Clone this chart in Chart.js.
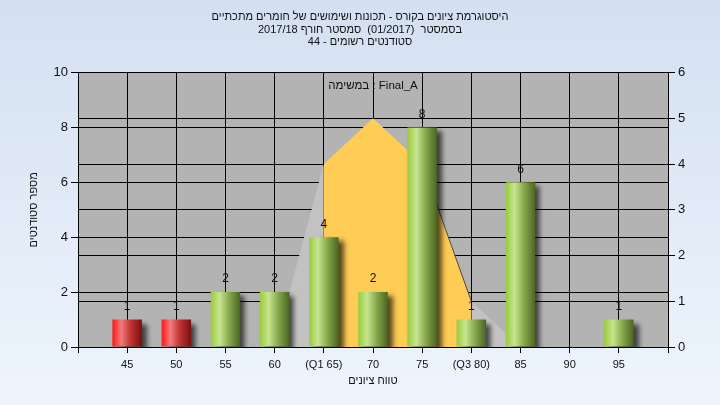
<!DOCTYPE html>
<html>
<head>
<meta charset="utf-8">
<script src="https://cdn.jsdelivr.net/npm/chart.js@4/dist/chart.umd.min.js"></script>
<style>
  html, body { margin: 0; padding: 0; }
  body { width: 720px; height: 405px; overflow: hidden; background: linear-gradient(#d4e0f1, #eef5fd); }
  canvas { display: block; }
</style>
</head>
<body>
<canvas id="histChart" width="720" height="405"></canvas>
<script>
(() => {
  'use strict';

  // chart data
  const titleLines = [
    'היסטוגרמת ציונים בקורס - תכונות ושימושים של חומרים מתכתיים',
    'בסמסטר  (01/2017)  סמסטר חורף 2017/18',
    'סטודנטים רשומים - 44'
  ];
  const taskCaption = 'במשימה : Final_A';
  const xTitle = 'טווח ציונים';
  const yTitle = 'מספר סטודנטים';

  const grades = [45, 50, 55, 60, 65, 70, 75, 80, 85, 90, 95];
  const tickLabels = ['45', '50', '55', '60', '(Q1 65)', '70', '75', '(Q3 80)', '85', '90', '95'];
  const counts = [1, 1, 2, 2, 4, 2, 8, 1, 6, 0, 1];
  const curve = [0, 0, 0, 0, 4, 5, 4, 1, 0, 0, 0];
  const passGrade = 55;

  const leftMax = 10, leftStep = 2;
  const rightMax = 6, rightStep = 1;

  // empty slot at each end of the axis
  const labels = ['', ...tickLabels, ''];
  const pad = arr => [null, ...arr, null];
  const q1 = tickLabels.findIndex(l => l.includes('Q1')) + 1;
  const q3 = tickLabels.findIndex(l => l.includes('Q3')) + 1;

  const FONT = "'Liberation Sans', Arial, sans-serif";
  Chart.defaults.font.family = FONT;
  Chart.defaults.color = '#111';

  const greenStops = [[0, '#98cb3c'], [0.3, '#c8e58f'], [0.62, '#87a84c'], [1, '#4a6522']];
  const redStops = [[0, '#ff1616'], [0.3, '#f27b7b'], [0.62, '#c03434'], [1, '#7a0f0f']];

  function barFill(c) {
    const chart = c.chart;
    if (!chart.chartArea || c.type !== 'data') return '#8fb848';
    const xs = chart.scales.x;
    const x = xs.getPixelForValue(c.dataIndex);
    const w = (xs.width / (labels.length - 1)) * 0.6;
    const g = chart.ctx.createLinearGradient(x - w / 2, 0, x + w / 2, 0);
    const grade = grades[c.dataIndex - 1];
    (grade < passGrade ? redStops : greenStops).forEach(([o, col]) => g.addColorStop(o, col));
    return g;
  }

  const inQuartiles = i => i >= q1 && i < q3;

  const plotBackground = {
    id: 'plotBackground',
    beforeDraw(chart) {
      const { ctx, chartArea: a } = chart;
      ctx.save();
      ctx.fillStyle = '#b3b3b3';
      ctx.fillRect(a.left, a.top, a.right - a.left, a.bottom - a.top);
      ctx.restore();
    }
  };

  const barShadow = {
    id: 'barShadow',
    beforeDatasetDraw(chart, args) {
      if (args.meta.type !== 'bar') return;
      const ctx = chart.ctx;
      ctx.save();
      ctx.shadowColor = 'rgba(0,0,0,0.65)';
      ctx.shadowBlur = 5;
      ctx.shadowOffsetX = 5;
      ctx.shadowOffsetY = 4;
    },
    afterDatasetDraw(chart, args) {
      if (args.meta.type !== 'bar') return;
      chart.ctx.restore();
    }
  };

  const valueLabels = {
    id: 'valueLabels',
    afterDatasetsDraw(chart) {
      const ctx = chart.ctx;
      const meta = chart.getDatasetMeta(0);
      ctx.save();
      ctx.font = '12px ' + FONT;
      ctx.fillStyle = '#111';
      ctx.textAlign = 'center';
      ctx.textBaseline = 'bottom';
      meta.data.forEach((el, i) => {
        const v = chart.data.datasets[0].data[i];
        if (!v) return;
        ctx.fillText(String(v), el.x, el.y - 7);
      });
      ctx.font = '11.5px ' + FONT;
      ctx.textBaseline = 'middle';
      const a = chart.chartArea;
      ctx.fillText(taskCaption, (a.left + a.right) / 2, a.top + 13);
      ctx.restore();
    }
  };

  new Chart(document.getElementById('histChart'), {
    data: {
      labels,
      datasets: [
        {
          type: 'bar',
          data: pad(counts),
          yAxisID: 'y',
          backgroundColor: barFill,
          borderWidth: 0,
          barPercentage: 0.6,
          categoryPercentage: 1,
          order: 0
        },
        {
          type: 'line',
          data: pad(curve),
          yAxisID: 'y2',
          fill: 'origin',
          tension: 0,
          pointRadius: 0,
          borderWidth: 1,
          borderColor: 'rgba(0,0,0,0)',
          backgroundColor: '#c2c2c2',
          segment: {
            backgroundColor: s => inQuartiles(s.p0DataIndex) ? '#ffcc55' : '#c2c2c2',
            borderColor: s => s.p0DataIndex === q3 - 1 ? '#4a4a4a' : 'rgba(0,0,0,0)'
          },
          order: 1
        }
      ]
    },
    options: {
      responsive: false,
      animation: false,
      layout: { padding: 0 },
      plugins: {
        legend: { display: false },
        tooltip: { enabled: false },
        title: {
          display: true,
          text: titleLines,
          color: '#111',
          font: { size: 11, weight: 'normal', lineHeight: 1.14 },
          padding: { top: 11, bottom: 24 }
        }
      },
      scales: {
        x: {
          type: 'category',
          offset: false,
          grid: { offset: false, color: '#000', lineWidth: 1, tickLength: 6 },
          border: { color: '#000' },
          ticks: { font: { size: 11 }, color: '#111', padding: 5, autoSkip: false, maxRotation: 0 },
          title: { display: true, text: xTitle, color: '#111', font: { size: 11 }, padding: { top: 0, bottom: 17 } },
          afterFit: s => { s.height = 58; }
        },
        y: {
          position: 'left',
          min: 0,
          max: leftMax,
          ticks: { stepSize: leftStep, font: { size: 13 }, color: '#111', padding: 3 },
          grid: { color: '#000', lineWidth: 1, tickLength: 7 },
          border: { color: '#000' },
          title: { display: true, text: yTitle, color: '#111', font: { size: 11 }, padding: { top: 27, bottom: 0 } },
          afterFit: s => { s.width = 78; }
        },
        y2: {
          position: 'right',
          min: 0,
          max: rightMax,
          ticks: { stepSize: rightStep, font: { size: 13 }, color: '#111', padding: 3 },
          grid: { color: '#000', lineWidth: 1, tickLength: 7, drawOnChartArea: true },
          border: { color: '#000' },
          afterFit: s => { s.width = 52; }
        }
      }
    },
    plugins: [plotBackground, barShadow, valueLabels]
  });
})();
</script>
</body>
</html>
